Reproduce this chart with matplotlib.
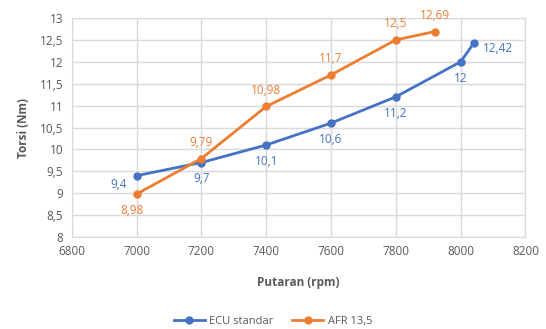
import matplotlib.pyplot as plt
from matplotlib.ticker import FuncFormatter

plt.rcParams['font.family'] = ['Open Sans', 'DejaVu Sans']

# data
ecu_rpm = [7000, 7200, 7400, 7600, 7800, 8000, 8040]
ecu_torsi = [9.4, 9.7, 10.1, 10.6, 11.2, 12.0, 12.42]
afr_rpm = [7000, 7200, 7400, 7600, 7800, 7920]
afr_torsi = [8.98, 9.79, 10.98, 11.7, 12.5, 12.69]

blue = '#4472C4'
orange = '#ED7D31'
grey = '#595959'

fig = plt.figure(figsize=(5.46, 3.29), dpi=100)
ax = fig.add_axes([0.1313, 0.2796, 0.831, 0.6657])

ax.plot(ecu_rpm, ecu_torsi, '-o', color=blue, lw=2, ms=5, label='ECU standar')
ax.plot(afr_rpm, afr_torsi, '-o', color=orange, lw=2, ms=5, label='AFR 13,5')

def fmt(v):
    return ('%g' % v).replace('.', ',')

# data labels
for i, (x, y) in enumerate(zip(ecu_rpm, ecu_torsi)):
    if i == 0:
        ax.annotate(fmt(y), (x, y), xytext=(-7, -6), textcoords='offset points',
                    ha='right', va='center', color=blue, fontsize=8.5)
    elif i == len(ecu_rpm) - 1:
        ax.annotate(fmt(y), (x, y), xytext=(7, -4), textcoords='offset points',
                    ha='left', va='center', color=blue, fontsize=8.5)
    else:
        ax.annotate(fmt(y), (x, y), xytext=(0, -7), textcoords='offset points',
                    ha='center', va='top', color=blue, fontsize=8.5)
for i, (x, y) in enumerate(zip(afr_rpm, afr_torsi)):
    if i == 0:
        ax.annotate(fmt(y), (x, y), xytext=(-3, -7), textcoords='offset points',
                    ha='center', va='top', color=orange, fontsize=8.5)
    else:
        ax.annotate(fmt(y), (x, y), xytext=(0, 7), textcoords='offset points',
                    ha='center', va='bottom', color=orange, fontsize=8.5)

ax.set_xlim(6800, 8200)
ax.set_ylim(8, 13)
ax.set_xticks(range(6800, 8201, 200))
ax.set_yticks([8 + 0.5 * i for i in range(11)])
ax.yaxis.set_major_formatter(FuncFormatter(lambda v, p: fmt(v)))
ax.grid(True, color='#D9D9D9', lw=1)
ax.set_axisbelow(True)
for s in ax.spines.values():
    s.set_color('#D9D9D9')
ax.tick_params(length=0, colors=grey, labelsize=8.5, pad=6)

ax.set_xlabel('Putaran (rpm)', fontsize=8.5, fontweight='bold', color=grey, labelpad=13)
ax.set_ylabel('Torsi (Nm)', fontsize=8.5, fontweight='bold', color=grey, labelpad=7)

fig.legend(loc='center', bbox_to_anchor=(0.5, 0.022), ncol=2, frameon=False,
           fontsize=8, labelcolor=grey, handlelength=2.8, handletextpad=0.4,
           columnspacing=1.7, borderpad=0)

fig.savefig('out.png', dpi=100)
